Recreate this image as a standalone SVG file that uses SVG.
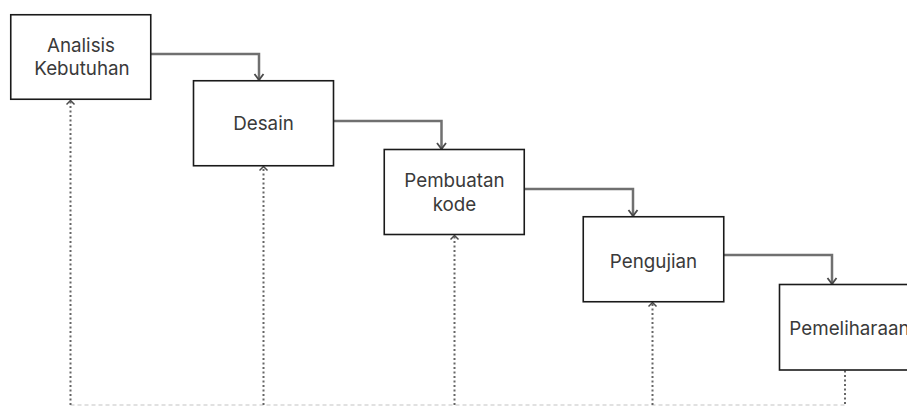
<svg xmlns="http://www.w3.org/2000/svg" width="907" height="406" viewBox="0 0 907 406">
  <style>
    .box { fill: #ffffff; stroke: #1a1a1a; stroke-width: 1.6; }
    .label { font-family: Inter, "Noto Sans", "Liberation Sans", sans-serif; font-size: 18.8px; fill: #3a3a3a; text-anchor: middle; }
    .flow { fill: none; stroke: #707070; stroke-width: 2.5; marker-end: url(#head); }
    .back { fill: none; stroke: #666666; stroke-width: 2; stroke-dasharray: 2 2.5; }
    .back.up { marker-end: url(#open); }
    .base { fill: none; stroke: #c4c4c4; stroke-width: 1.2; stroke-dasharray: 4 3; }
  </style>
  <defs>
    <!-- chevron heads drawn along +x, rotated to the path direction -->
    <marker id="head" viewBox="0 0 10 12" refX="9" refY="6" markerWidth="10" markerHeight="12" markerUnits="userSpaceOnUse" orient="auto">
      <path d="M3 1.5 L9 6 L3 10.5" fill="none" stroke="#4a4a4a" stroke-width="1.8"/>
    </marker>
    <marker id="open" viewBox="0 0 10 10" refX="9" refY="5" markerWidth="10" markerHeight="10" markerUnits="userSpaceOnUse" orient="auto">
      <path d="M5 1 L9 5 L5 9" fill="none" stroke="#4a4a4a" stroke-width="1.5"/>
    </marker>
  </defs>

  <rect width="907" height="406" fill="#ffffff"/>

  <!-- connectors -->
  <g id="connectors">
    <path class="flow" d="M151 54 H259 V80"/>
    <path class="flow" d="M334 121 H441.5 V149"/>
    <path class="flow" d="M525 189 H633 V216"/>
    <path class="flow" d="M724 255 H832 V284"/>
    <path class="base" d="M70.5 405 H845"/>
    <path class="back up" d="M70.5 405 V100.5"/>
    <path class="back up" d="M263.5 405 V166.5"/>
    <path class="back up" d="M454.5 405 V235.5"/>
    <path class="back up" d="M652.5 405 V302.5"/>
    <path class="back" d="M845 370.5 V405"/>
  </g>

  <g id="analisis">
    <rect class="box" x="10.75" y="14.75" width="140" height="84.5"/>
    <text class="label" x="81" y="52">Analisis</text>
    <text class="label" x="82" y="75">Kebutuhan</text>
  </g>
  <g id="desain">
    <rect class="box" x="193.5" y="80.75" width="140" height="85"/>
    <text class="label" x="263.5" y="130">Desain</text>
  </g>
  <g id="pembuatan">
    <rect class="box" x="384.25" y="149.5" width="140" height="85"/>
    <text class="label" x="454.5" y="187">Pembuatan</text>
    <text class="label" x="454.5" y="211">kode</text>
  </g>
  <g id="pengujian">
    <rect class="box" x="583.25" y="216.75" width="140.5" height="85"/>
    <text class="label" x="653.5" y="268">Pengujian</text>
  </g>
  <g id="pemeliharaan">
    <rect class="box" x="779.5" y="284.5" width="140" height="85.5"/>
    <text class="label" x="849.5" y="335">Pemeliharaan</text>
  </g>
</svg>
